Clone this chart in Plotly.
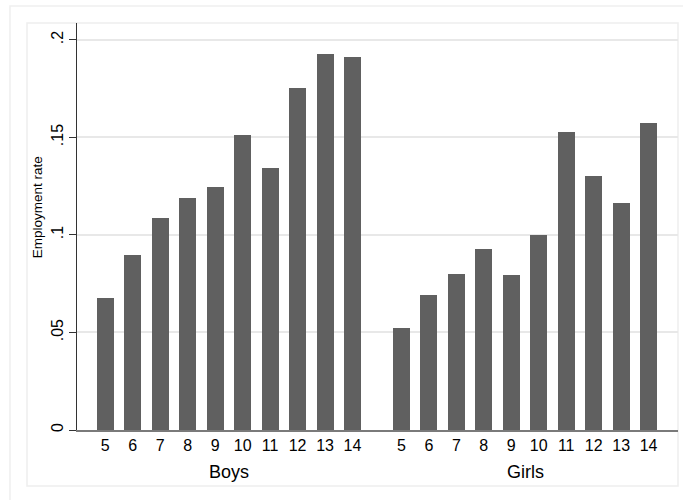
import plotly.graph_objects as go

ages = [5, 6, 7, 8, 9, 10, 11, 12, 13, 14]
groups = ["Boys", "Girls"]
boys = [0.0675, 0.0897, 0.1087, 0.1190, 0.1246, 0.1513, 0.1344, 0.1754, 0.1928, 0.1913]
girls = [0.0523, 0.0692, 0.0800, 0.0928, 0.0795, 0.1000, 0.1528, 0.1303, 0.1164, 0.1574]
ytick_vals = [0, 0.05, 0.1, 0.15, 0.2]
ytick_text = ["0", ".05", ".1", ".15", ".2"]

series = [boys, girls]
group_step = len(ages) + 0.78

xs, ys, ticktext, centers = [], [], [], []
for g, vals in enumerate(series):
    pos = [i + g * group_step for i in range(len(ages))]
    xs += pos
    ys += vals
    ticktext += [str(a) for a in ages]
    centers.append(sum(pos) / len(pos))

FONT = "Liberation Sans, Arial, Helvetica, sans-serif"

fig = go.Figure()
fig.add_trace(go.Bar(x=xs, y=ys, width=0.62, marker=dict(color="#606060", line=dict(width=0)),
                     showlegend=False, hoverinfo="y"))

annotations = []
for name, c in zip(groups, centers):
    annotations.append(dict(x=c, xref="x", y=-0.103, yref="paper", text=name, showarrow=False,
                            xanchor="center", yanchor="middle", font=dict(size=18, color="#000")))
annotations.append(dict(x=-0.0666, xref="paper", y=0.547, yref="paper", text="Employment rate",
                        textangle=-90, showarrow=False, xanchor="center", yanchor="middle",
                        font=dict(size=13.5, color="#000")))

shapes = [
    dict(type="rect", xref="paper", yref="paper", x0=-0.1115, x1=1.05, y0=-0.3, y1=1.0418,
         line=dict(color="#efefef", width=1.5), fillcolor="rgba(0,0,0,0)", layer="below"),
    dict(type="rect", xref="paper", yref="paper", x0=-0.0832, x1=1.0, y0=-0.1376, y1=1.0,
         line=dict(color="#eeeeee", width=1.5), fillcolor="rgba(0,0,0,0)", layer="below"),
]

x_right = (len(series) - 1) * group_step + len(ages) - 1 + 1.07

fig.update_layout(
    width=683, height=500,
    margin=dict(l=77, r=5, t=23, b=70, autoexpand=False),
    paper_bgcolor="white", plot_bgcolor="white",
    font=dict(family=FONT, color="#000"),
    bargap=0,
    annotations=annotations,
    shapes=shapes,
    xaxis=dict(range=[-1.03, x_right], tickmode="array", tickvals=xs, automargin=False,
               ticktext=ticktext, showgrid=False, zeroline=False, showline=True, linecolor="#7a7a7a",
               linewidth=2, ticks="", tickfont=dict(size=16), fixedrange=True),
    yaxis=dict(range=[0, 0.2087], tickmode="array", tickvals=ytick_vals, ticktext=ytick_text,
               automargin=False,
               tickangle=-90, ticks="outside", ticklen=7, tickcolor="#333", tickwidth=1,
               showline=True, linecolor="#333", linewidth=1, showgrid=True, gridcolor="#e8e8e8",
               gridwidth=1.5, zeroline=False, tickfont=dict(size=16)),
)

fig.write_html("out.html", config={"displayModeBar": False},
               post_script="document.body.style.margin='0';document.body.style.overflow='hidden';")
